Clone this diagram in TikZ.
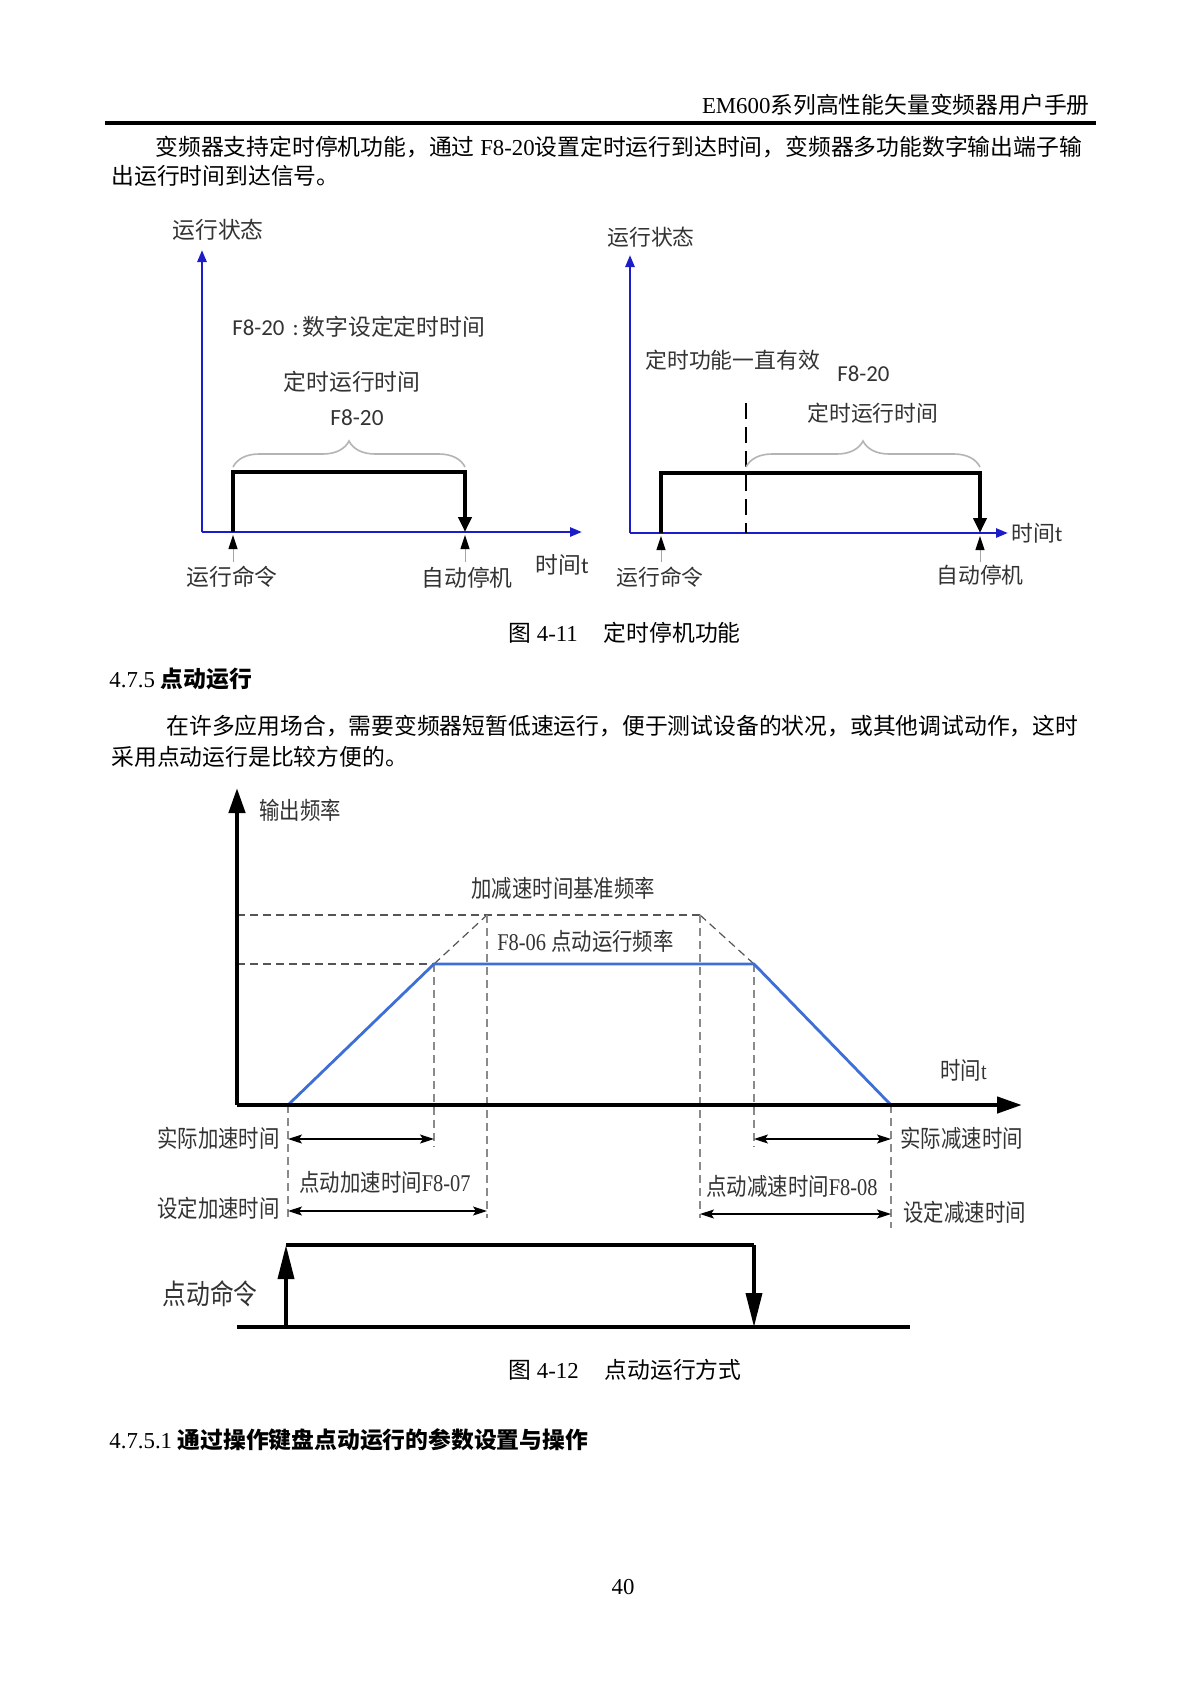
\documentclass[tikz,border=0pt]{standalone}
\usepackage{fontspec}
\setmainfont{Liberation Serif}
\newfontfamily\cjk{Noto Sans CJK SC}
\newfontfamily\cjkn[FakeStretch=0.85]{Noto Sans CJK SC}
\newfontfamily\serifn[FakeStretch=0.85]{Liberation Serif}
\newfontfamily\calfont{Carlito}
\usetikzlibrary{arrows.meta,decorations.pathreplacing}
\newcommand\zh[1]{{\cjk #1}}
\newcommand\zhb[1]{{\cjk\bfseries #1}}
\definecolor{axblue}{HTML}{1C1CC8}
\definecolor{rampblue}{HTML}{3D6FD6}
\definecolor{txtgrey}{HTML}{333333}
\definecolor{bracegrey}{HTML}{B4B4B4}
\definecolor{dashgrey}{HTML}{555555}
\definecolor{vdashgrey}{HTML}{8A8A8A}
\begin{document}
\begin{tikzpicture}[x=0.5pt,y=-0.5pt,
  body/.style={inner sep=0pt,anchor=west,font=\fontsize{11.4pt}{13pt}\selectfont},
  lab/.style={inner sep=0pt,text=txtgrey,font=\fontsize{11.4pt}{13pt}\selectfont\cjk},
  labr/.style={inner sep=0pt,text=txtgrey,font=\fontsize{10.9pt}{13pt}\selectfont\cjk},
  labn/.style={inner sep=0pt,text=txtgrey,font=\fontsize{12pt}{14pt}\selectfont\cjkn},
  bluax/.style={draw=axblue,line width=1.3pt,-{Triangle[length=6pt,width=4.5pt]}},
  pulse/.style={draw=black,line width=2pt,line join=miter},
  smallup/.style={draw=gray!70,line width=0.5pt,-{Triangle[length=7pt,width=4.5pt,color=black]}},
  bracestyle/.style={draw=bracegrey,line width=0.8pt,decorate,decoration={brace,amplitude=13pt}},
  blkax/.style={draw=black,line width=2.2pt,-{Triangle[length=12.5pt,width=8pt]}},
  hdash/.style={draw=dashgrey,line width=0.6pt,dash pattern=on 4pt off 2.5pt},
  vdash/.style={draw=vdashgrey,line width=0.6pt,dash pattern=on 4pt off 2.5pt},
  ramp/.style={draw=rampblue,line width=1.4pt,line join=miter},
  dbl/.style={draw=black,line width=0.6pt,{Stealth[length=7pt,width=4.5pt,inset=1.5pt]}-{Stealth[length=7pt,width=4.5pt,inset=1.5pt]}},
  cmd/.style={draw=black,line width=1.8pt}
]
\useasboundingbox[fill=white] (0,0) rectangle (1200,1704);

% ---------- header ----------
\node[body,anchor=east] (hdr) at (1090,105) {EM600\zh{系列高性能矢量变频器用户手册}};
\coordinate (hl1) at (105,123);
\coordinate (hl2) at (1096,123);
\draw[line width=1.6pt] (hl1) -- (hl2);

\node[body] (p1a) at (155,147) {\zh{变频器支持定时停机功能，通过} F8-20\zh{设置定时运行到达时间，变频器多功能数字输出端子输}};
\node[body] (p1b) at (111,176) {\zh{出运行时间到达信号。}};

% ---------- Figure 4-11 left ----------
\coordinate (Lo) at (202,532);
\coordinate (Ly) at (202,250);
\coordinate (Lx) at (582,532);
\draw[bluax] (Lo) -- (Ly);
\draw[bluax] (Lo) -- (Lx);
\coordinate (La) at (233,532);
\coordinate (Lat) at (233,472);
\coordinate (Lbt) at (465,472);
\coordinate (Lb) at (465,532);
\draw[pulse,-{Triangle[length=7.5pt,width=6.5pt]}] (La) -- (Lat) -- (Lbt) -- (Lb);
\coordinate (La1) at (233,562);
\coordinate (La2) at (233,535);
\coordinate (Lb1) at (465,562);
\coordinate (Lb2) at (465,535);
\draw[smallup] (La1) -- (La2);
\draw[smallup] (Lb1) -- (Lb2);
\coordinate (Lbr1) at (233,467);
\coordinate (Lbr2) at (465,467);
\draw[bracestyle] (Lbr1) -- (Lbr2);

\node[lab,anchor=west] (Lst) at (172,230) {运行状态};
\node[lab,anchor=west] (Lf1) at (232,327) {{\calfont F8-20\hspace{4pt}:}\hspace{2pt}数字设定定时时间};
\node[lab] (Lrt) at (352,382) {定时运行时间};
\node[lab,font=\fontsize{11.6pt}{13pt}\selectfont\calfont] (Lf2) at (357,418) {F8-20};
\node[lab] (Lcmd) at (232,577) {运行命令};
\node[lab] (Lstop) at (467,578) {自动停机};
\node[lab,anchor=west] (Lt) at (535,565) {时间{\calfont t}};

% ---------- Figure 4-11 right ----------
\coordinate (Ro) at (630,533);
\coordinate (Ry) at (630,255);
\coordinate (Rx) at (1008,533);
\draw[bluax] (Ro) -- (Ry);
\draw[bluax] (Ro) -- (Rx);
\coordinate (Ra) at (661,533);
\coordinate (Rat) at (661,473);
\coordinate (Rbt) at (980,473);
\coordinate (Rb) at (980,533);
\draw[pulse,-{Triangle[length=7.5pt,width=6.5pt]}] (Ra) -- (Rat) -- (Rbt) -- (Rb);
\coordinate (Rd1) at (746,403);
\coordinate (Rd2) at (746,533);
\draw[line width=1.3pt,dash pattern=on 8pt off 4pt] (Rd1) -- (Rd2);
\coordinate (Ra1) at (661,562);
\coordinate (Ra2) at (661,536);
\coordinate (Rb1) at (980,562);
\coordinate (Rb2) at (980,536);
\draw[smallup] (Ra1) -- (Ra2);
\draw[smallup] (Rb1) -- (Rb2);
\coordinate (Rbr1) at (746,467);
\coordinate (Rbr2) at (980,467);
\draw[bracestyle] (Rbr1) -- (Rbr2);

\node[labr,anchor=west] (Rst) at (607,237) {运行状态};
\node[labr,anchor=west] (Rval) at (645,360) {定时功能一直有效};
\node[labr,anchor=west,font=\fontsize{11.4pt}{13pt}\selectfont\calfont] (Rf) at (837,374) {F8-20};
\node[labr,anchor=west] (Rrt) at (807,413) {定时运行时间};
\node[labr,anchor=west] (Rt) at (1011,533) {时间{\calfont t}};
\node[labr] (Rcmd) at (660,577) {运行命令};
\node[labr] (Rstop) at (980,575) {自动停机};

% caption 1
\node[body] (cap1) at (508,633) {\zh{图} 4-11\hspace{13pt}\zh{定时停机功能}};

% section heading
\node[body] (sec) at (109,679) {4.7.5 \zhb{点动运行}};
\node[body] (p2a) at (166,726) {\zh{在许多应用场合，需要变频器短暂低速运行，便于测试设备的状况，或其他调试动作，这时}};
\node[body] (p2b) at (111,757) {\zh{采用点动运行是比较方便的。}};

% ---------- Figure 4-12 ----------
\coordinate (O) at (237,1105);
\coordinate (Y) at (237,788);
\coordinate (X) at (1022,1105);
\coordinate (A) at (288,1105);
\coordinate (B) at (434,964);
\coordinate (C) at (754,964);
\coordinate (D) at (891,1105);
\coordinate (T1) at (487,915);
\coordinate (T2) at (700,915);
\coordinate (H0) at (237,915);
\coordinate (M0) at (237,964);

\draw[hdash] (H0) -- (T2);
\draw[hdash] (M0) -- (B);
\draw[hdash] (B) -- (T1);
\draw[hdash] (T2) -- (C);

\coordinate (V1) at (288,1218);
\coordinate (V2) at (434,1147);
\coordinate (V3) at (487,1218);
\coordinate (V4) at (700,1218);
\coordinate (V5) at (754,1147);
\coordinate (V6) at (891,1228);
\draw[vdash] (A) -- (V1);
\draw[vdash] (B) -- (V2);
\draw[vdash] (T1) -- (V3);
\draw[vdash] (T2) -- (V4);
\draw[vdash] (C) -- (V5);
\draw[vdash] (D) -- (V6);

\draw[ramp] (A) -- (B) -- (C) -- (D);
\draw[blkax] (O) -- (Y);
\draw[blkax] (O) -- (X);

\coordinate (r1a) at (288,1139);
\coordinate (r1b) at (434,1139);
\coordinate (r1c) at (754,1139);
\coordinate (r1d) at (891,1139);
\coordinate (r2a) at (288,1211);
\coordinate (r2b) at (487,1211);
\coordinate (r2c) at (700,1214);
\coordinate (r2d) at (891,1214);
\draw[dbl] (r1a) -- (r1b);
\draw[dbl] (r1c) -- (r1d);
\draw[dbl] (r2a) -- (r2b);
\draw[dbl] (r2c) -- (r2d);

\coordinate (G1) at (237,1327);
\coordinate (G2) at (910,1327);
\draw[cmd] (G1) -- (G2);
\coordinate (P1) at (286,1327);
\coordinate (P2) at (286,1245);
\coordinate (P3) at (754,1245);
\coordinate (P4) at (754,1327);
\draw[cmd,-{Triangle[length=17pt,width=8pt]}] (P1) -- (P2);
\draw[cmd] (P2) -- (P3);
\draw[cmd,-{Triangle[length=17pt,width=8pt]}] (P3) -- (P4);

\node[labn,anchor=west] (yl) at (259,810) {输出频率};
\node[labn,anchor=west] (ref) at (471,888) {加减速时间基准频率};
\node[labn,anchor=west] (jf) at (497,941) {{\serifn F8-06 }点动运行频率};
\node[labn,anchor=west] (tl) at (940,1070) {时间{\serifn t}};
\node[labn,anchor=east] (aa) at (280,1138) {实际加速时间};
\node[labn,anchor=west] (ad) at (900,1138) {实际减速时间};
\node[labn,anchor=west] (ja) at (299,1182) {点动加速时间{\serifn F8-07}};
\node[labn,anchor=east] (sa) at (280,1208) {设定加速时间};
\node[labn,anchor=west] (jd) at (706,1186) {点动减速时间{\serifn F8-08}};
\node[labn,anchor=west] (sd) at (903,1212) {设定减速时间};
\node[labn,anchor=west,font=\fontsize{14pt}{16pt}\selectfont\cjkn] (jc) at (162,1294) {点动命令};

% caption 2
\node[body] (cap2) at (508,1370) {\zh{图} 4-12\hspace{13pt}\zh{点动运行方式}};
\node[body] (sec2) at (109,1440) {4.7.5.1 \zhb{通过操作键盘点动运行的参数设置与操作}};
\node[body,anchor=center] (pg) at (623,1587) {40};
\end{tikzpicture}
\end{document}
